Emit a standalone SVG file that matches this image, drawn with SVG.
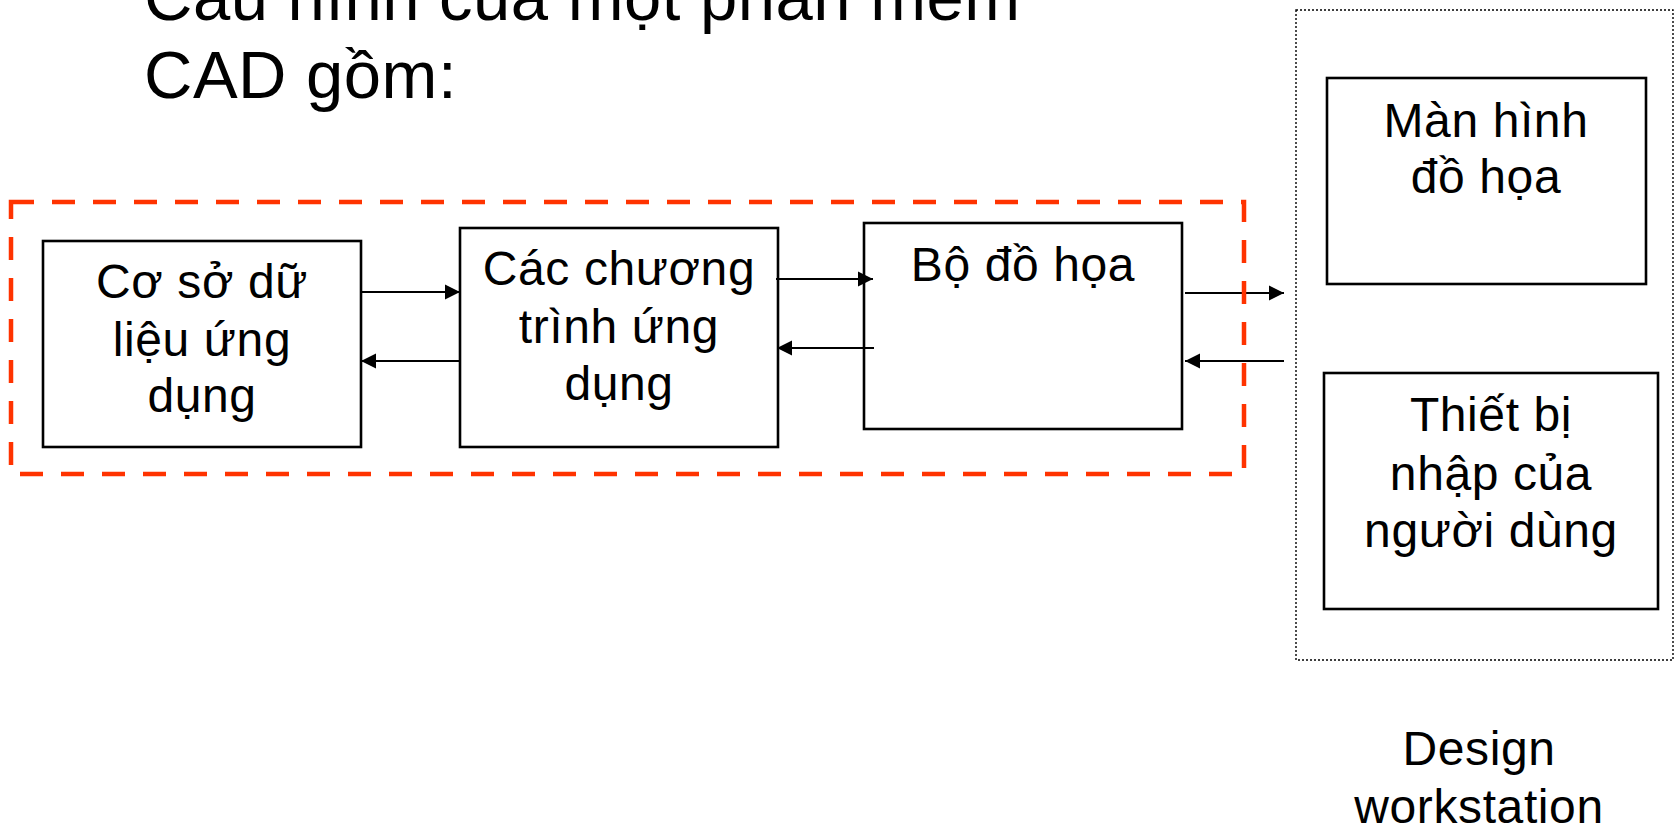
<svg xmlns="http://www.w3.org/2000/svg" width="1675" height="828" viewBox="0 0 1675 828">
<style>
text{font-family:"Liberation Sans",Arial,Helvetica,sans-serif;fill:#000;}
.lbl{font-size:48px;letter-spacing:0.6px;text-anchor:middle;}
.title{font-size:67px;letter-spacing:0.5px;}
.box{fill:#fff;stroke:#000;stroke-width:2.6;}
.con{stroke:#000;stroke-width:2;fill:none;marker-end:url(#ah);}
</style>
<defs>
<marker id="ah" markerUnits="userSpaceOnUse" markerWidth="16" markerHeight="16" viewBox="0 0 16 16" refX="15" refY="8" orient="auto">
<path d="M0,0.5 L15,8 L0,15.5 Z" fill="#000"/>
</marker>
</defs>
<rect width="1675" height="828" fill="#fff"/>
<g id="title">
<text class="title" x="144" y="20">Cấu hình của một phần mềm</text>
<text class="title" x="144" y="98">CAD gồm:</text>
</g>
<g id="workstation">
<rect x="1296" y="10" width="377" height="650" fill="none" stroke="#000" stroke-width="1.4" stroke-dasharray="2,2"/>
<text class="lbl" x="1479" y="765">Design</text>
<text class="lbl" x="1479" y="823">workstation</text>
</g>
<g id="n1">
<rect class="box" x="43" y="241" width="318" height="206"/>
<text class="lbl" x="202" y="298">Cơ sở dữ</text>
<text class="lbl" x="202" y="356">liệu ứng</text>
<text class="lbl" x="202" y="412">dụng</text>
</g>
<g id="n2">
<rect class="box" x="460" y="228" width="318" height="219"/>
<text class="lbl" x="619" y="285">Các chương</text>
<text class="lbl" x="619" y="343">trình ứng</text>
<text class="lbl" x="619" y="400">dụng</text>
</g>
<g id="n3">
<rect class="box" x="864" y="223" width="318" height="206"/>
<text class="lbl" x="1023" y="281">Bộ đồ họa</text>
</g>
<g id="n4">
<rect class="box" x="1327" y="78" width="319" height="206"/>
<text class="lbl" x="1486" y="137">Màn hình</text>
<text class="lbl" x="1486" y="193">đồ họa</text>
</g>
<g id="n5">
<rect class="box" x="1324" y="373" width="334" height="236"/>
<text class="lbl" x="1491" y="431">Thiết bị</text>
<text class="lbl" x="1491" y="490">nhập của</text>
<text class="lbl" x="1491" y="547">người dùng</text>
</g>
<g id="connectors">
<line class="con" x1="361" y1="292" x2="460" y2="292"/>
<line class="con" x1="460" y1="361" x2="361" y2="361"/>
<line class="con" x1="776" y1="279" x2="873" y2="279"/>
<line class="con" x1="874" y1="348" x2="777" y2="348"/>
<line class="con" x1="1185" y1="293" x2="1284" y2="293"/>
<line class="con" x1="1284" y1="361" x2="1185" y2="361"/>
</g>
<g id="cad-software">
<rect x="11" y="202" width="1233" height="272" fill="none" stroke="#FF3300" stroke-width="4.5" stroke-dasharray="23,18"/>
</g>
</svg>
